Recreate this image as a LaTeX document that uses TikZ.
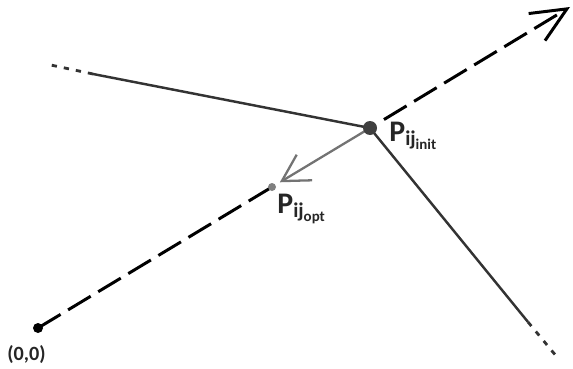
\documentclass[tikz,border=0pt]{standalone}
\usepackage{amsmath}
\usepackage{fontspec}
\setmainfont{Carlito}
\usetikzlibrary{arrows.meta, calc}

\begin{document}
\begin{tikzpicture}[
        x=0.02cm, y=-0.02cm,
        ray/.style={line width=1.7pt, dash pattern=on 15pt off 5pt},
        edge/.style={line width=1.4pt, draw=black!80},
        edgedots/.style={line width=1.6pt, draw=black!80, dash pattern=on 3pt off 4pt},
        move/.style={line width=1.3pt, draw=black!55, -{Straight Barb[length=15pt, width=17pt, line width=1.3pt]}},
        lbl/.style={font=\bfseries, text=black!85, inner sep=0pt}
    ]
        \useasboundingbox (0,0) rectangle (573,368);
        % points
        \coordinate (orig) at (38,328);
        \coordinate (popt) at (272,187);
        \coordinate (pinit) at (370,128);
        \coordinate (tip) at (570,7);
        \coordinate (lA) at (93,74);
        \coordinate (lAend) at (46,64);
        \coordinate (lB) at (528,322);
        \coordinate (lBend) at (557,357);
        % lines through the point
        \draw[edge] (lA) -- (pinit) -- (lB);
        \draw[edgedots] (lA) -- (lAend);
        \draw[edgedots] (lB) -- (lBend);
        % ray from the origin
        \draw[ray] (orig) -- (popt);
        \draw[ray, -{Straight Barb[length=20pt, width=18pt, line width=1.7pt]}] ($(pinit)!0.07!(tip)$) -- (tip);
        \draw[move] (pinit) -- ($(pinit)!0.92!(popt)$);
        % dots
        \fill[black] (orig) circle (5);
        \fill[black!50] (popt) circle (4);
        \fill[black!75] (pinit) circle (7);
        % labels
        \node[lbl, font=\bfseries\fontsize{11.5}{13}\selectfont, anchor=base west] (origlbl) at (7,360) {(0,0)};
        \node[lbl, font=\bfseries\fontsize{17}{19}\selectfont, anchor=base west] (initlbl) at (389,141) {$\text{P}_{\text{ij}_{\text{init}}}$};
        \node[lbl, font=\bfseries\fontsize{17}{19}\selectfont, anchor=base west] (optlbl) at (277,213) {$\text{P}_{\text{ij}_{\text{opt}}}$};
    \end{tikzpicture}
\end{document}
